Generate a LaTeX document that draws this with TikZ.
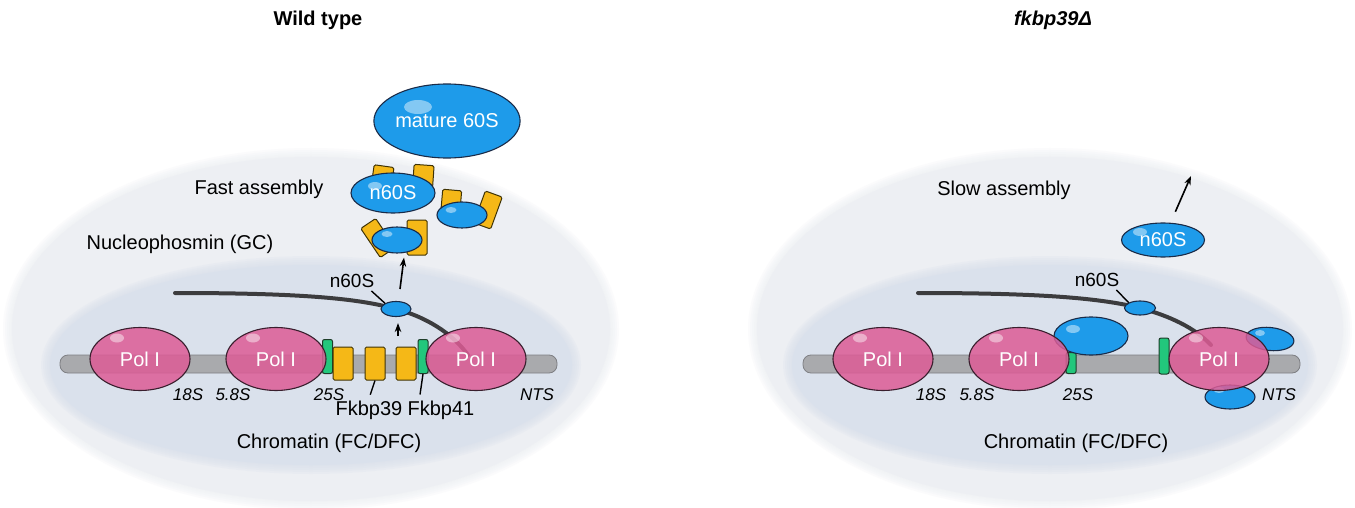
\documentclass[tikz,border=0pt]{standalone}
\usepackage{fontspec}
\setmainfont{Liberation Sans}
\usetikzlibrary{shapes.geometric,arrows.meta,calc}

\definecolor{cellbg}{HTML}{EDEFF3}
\definecolor{chromabg}{HTML}{DAE1EC}
\definecolor{dnagrey}{HTML}{A9AAAD}
\definecolor{dnaedge}{HTML}{7E7F83}
\definecolor{polpink}{HTML}{DD5C96}
\definecolor{poledge}{HTML}{3A1F2E}
\definecolor{ribblue}{HTML}{1E9BEA}
\definecolor{ribedge}{HTML}{1A2B48}
\definecolor{fkyellow}{HTML}{F5B817}
\definecolor{fkedge}{HTML}{3F3305}
\definecolor{fkgreen}{HTML}{22C77C}
\definecolor{fkgedge}{HTML}{1E3D2A}
\definecolor{rnagrey}{HTML}{3C3C3E}

\newcommand{\lblfont}{\fontsize{20}{24}\selectfont}
\newcommand{\regfont}{\fontsize{17}{20}\selectfont\itshape}

% soft-edged compartment: centre x, centre y, x radius, y radius, colour
\newcommand{\softoval}[5]{%
  \foreach \k in {0,...,4}{%
    \fill[#5, fill opacity=0.22] (#1,#2) ellipse [x radius={#3pt+5pt-2pt*\k}, y radius={#4pt+5pt-2pt*\k}];
  }%
  \fill[#5] (#1,#2) ellipse [x radius={#3pt-4pt}, y radius={#4pt-4pt}];
}

\tikzset{
  pol/.style={ellipse, draw=poledge, line width=1.1pt, fill=polpink, fill opacity=0.85,
    text opacity=1, text=white, minimum width=100pt, minimum height=63pt, inner sep=0pt, font=\lblfont},
  rib/.style={ellipse, draw=ribedge, line width=1.1pt, fill=ribblue, text=white,
    inner sep=0pt, font=\lblfont},
  shine/.style={ellipse, fill=white, fill opacity=0.45, draw=none, inner sep=0pt},
  fkb/.style={rectangle, rounded corners=1.5pt, draw=fkedge, line width=1pt, fill=fkyellow,
    minimum width=20pt, minimum height=33pt, inner sep=0pt},
  fkg/.style={rectangle, rounded corners=2pt, draw=fkgedge, line width=1pt, fill=fkgreen,
    minimum width=10pt, inner sep=0pt},
  dna/.style={rectangle, rounded corners=8pt, draw=dnaedge, line width=0.8pt, fill=dnagrey,
    minimum height=18pt, inner sep=0pt},
  rna/.style={draw=rnagrey, line width=4pt, line cap=round},
  arr/.style={-{Stealth[length=9pt,width=6.5pt]}, line width=1.6pt, black},
  ptr/.style={line width=1.4pt, black},
  lbl/.style={font=\lblfont, inner sep=2pt},
  reg/.style={font=\regfont, inner sep=2pt},
}

\begin{document}
\begin{tikzpicture}[x=1pt, y=-1pt]
\useasboundingbox[fill=white] (0,0) rectangle (1355,508);

% ================= wild type =================
\node[font=\lblfont\bfseries] (ttlwt) at (318,20) {Wild type};

\softoval{311}{329}{303}{176}{cellbg}
\softoval{311}{365}{265}{104}{chromabg}

\node[dna, minimum width=497pt] (dnaL) at (308.5,364) {};

\node[fkg, minimum height=34pt] (gL1) at (327.5,356.5) {};
\node[fkg, minimum height=34pt] (gL2) at (423,356.5) {};
\node[fkb] (yL1) at (343,363.5) {};
\node[fkb] (yL2) at (375,363.5) {};
\node[fkb] (yL3) at (406,363.5) {};

\coordinate (rnaL0) at (175,293);
\coordinate (rnaL1) at (468,355);
\draw[rna] (rnaL0) .. controls (297,293) and (357,298) .. (396,309)
  .. controls (426,317) and (452,333) .. (rnaL1);

\node[pol] (pL1) at (140,359) {Pol I};
\node[pol] (pL2) at (276,359) {Pol I};
\node[pol] (pL3) at (476,359) {Pol I};
\foreach \p in {pL1,pL2,pL3}
  \node[shine, minimum width=14pt, minimum height=9pt] (\p s) at ($(\p)+(-23,-21)$) {};

\node[rib, minimum width=30pt, minimum height=15pt] (sL) at (396,309) {};

\node[reg] (rL18) at (188,395) {18S};
\node[reg] (rL58) at (233,395) {5.8S};
\node[reg] (rL25) at (329,395) {25S};
\node[reg] (rLnts) at (537,395) {NTS};

\node[lbl] (fk39) at (369,410) {Fkbp39};
\node[lbl] (fk41) at (441,410) {Fkbp41};
\draw[ptr, shorten <=4pt] (fk39.north) -- (yL2.south);
\draw[ptr, shorten <=4pt] ($(fk41.north west)+(14,0)$) -- (gL2.south);

\node[lbl, font=\fontsize{19}{22}\selectfont] (nL) at (352,281) {n60S};
\draw[ptr] ($(nL.south east)+(-5,1)$) -- (sL.north west);

\coordinate (aL1) at (398,336);
\draw[arr, shorten >=6pt] (aL1) -- (sL.south -| aL1);

% exported pre-60S particles with Fkbp39/Fkbp41
\node[fkb, minimum width=18pt, minimum height=35pt, rotate=34] (c3a) at (378,238) {};
\node[fkb, minimum width=20pt, minimum height=35pt] (c3b) at (417,237.5) {};
\node[rib, minimum width=50pt, minimum height=26pt] (c3) at (397,240) {};
\node[shine, minimum width=11pt, minimum height=6pt] (c3s) at (387,234) {};

\node[fkb, minimum width=19pt, minimum height=28pt, rotate=-5] (c2a) at (451,204) {};
\node[fkb, minimum width=18pt, minimum height=34pt, rotate=-20] (c2b) at (488,210) {};
\node[rib, minimum width=50pt, minimum height=26pt] (c2) at (462,215) {};
\node[shine, minimum width=11pt, minimum height=6pt] (c2s) at (451,210) {};

\node[fkb, minimum width=20pt, minimum height=30pt, rotate=-8] (c1a) at (382,181) {};
\node[fkb, minimum width=20pt, minimum height=32pt, rotate=-4] (c1b) at (423,181) {};
\node[rib, minimum width=84pt, minimum height=40pt] (c1) at (393,193) {n60S};
\node[shine, minimum width=14pt, minimum height=8pt] (c1s) at (375,186) {};

\coordinate (aL2) at (400,289);
\draw[arr] (aL2) -- ($(c3.south)+(7,4)$);

\node[rib, minimum width=138pt, minimum height=74pt] (mat) at (447,121) {mature 60S};
\node[shine, minimum width=28pt, minimum height=14pt] (mats) at (418,107) {};

\node[lbl] (fast) at (259,189) {Fast assembly};
\node[lbl] (gcL) at (180,244) {Nucleophosmin (GC)};
\node[lbl] (fcL) at (329,443) {Chromatin (FC/DFC)};

% ================= fkbp39 deletion =================
\node[font=\lblfont\bfseries\itshape] (ttlmu) at (1053,20) {fkbp39Δ};

\softoval{1050}{329}{297}{176}{cellbg}
\softoval{1050}{365}{262}{104}{chromabg}

\node[dna, minimum width=497pt] (dnaR) at (1051.5,364) {};

\node[fkg, minimum height=21pt] (gR1) at (1071,363) {};
\node[fkg, minimum height=36pt] (gR2) at (1164,356) {};

\node[rib, minimum width=74pt, minimum height=38pt] (bR1) at (1091,336) {};
\node[shine, minimum width=14pt, minimum height=8pt] (bR1s) at (1073,329) {};
\node[rib, minimum width=48pt, minimum height=23pt, rotate=-6] (bR2) at (1270,339) {};
\node[shine, minimum width=10pt, minimum height=6pt] (bR2s) at (1260,333) {};
\node[rib, minimum width=50pt, minimum height=24pt] (bR3) at (1230,397) {};
\node[shine, minimum width=11pt, minimum height=6pt] (bR3s) at (1219,390) {};

\coordinate (rnaR0) at (918,293);
\coordinate (rnaR1) at (1211,345);
\draw[rna] (rnaR0) .. controls (1040,293) and (1100,298) .. (1140,308)
  .. controls (1170,316) and (1195,328) .. (rnaR1);

\node[pol] (pR1) at (883,359) {Pol I};
\node[pol] (pR2) at (1019,359) {Pol I};
\node[pol] (pR3) at (1219,359) {Pol I};
\foreach \p in {pR1,pR2,pR3}
  \node[shine, minimum width=14pt, minimum height=9pt] (\p s) at ($(\p)+(-23,-21)$) {};

\node[rib, minimum width=31pt, minimum height=14pt] (sR) at (1140,308) {};

\node[reg] (rR18) at (931,395) {18S};
\node[reg] (rR58) at (977,395) {5.8S};
\node[reg] (rR25) at (1078,395) {25S};
\node[reg] (rRnts) at (1279,395) {NTS};

\node[lbl, font=\fontsize{19}{22}\selectfont] (nR) at (1097,280) {n60S};
\draw[ptr] ($(nR.south east)+(-5,1)$) -- (sR.north west);

\node[rib, minimum width=83pt, minimum height=34pt] (topR) at (1163,240) {n60S};
\node[shine, minimum width=14pt, minimum height=8pt] (topRs) at (1140,232) {};
\coordinate (exitR) at (1191,176);
\draw[arr, shorten <=12pt] (topR) -- (exitR);

\node[lbl] (slow) at (1004,190) {Slow assembly};
\node[lbl] (fcR) at (1076,443) {Chromatin (FC/DFC)};
\end{tikzpicture}
\end{document}
